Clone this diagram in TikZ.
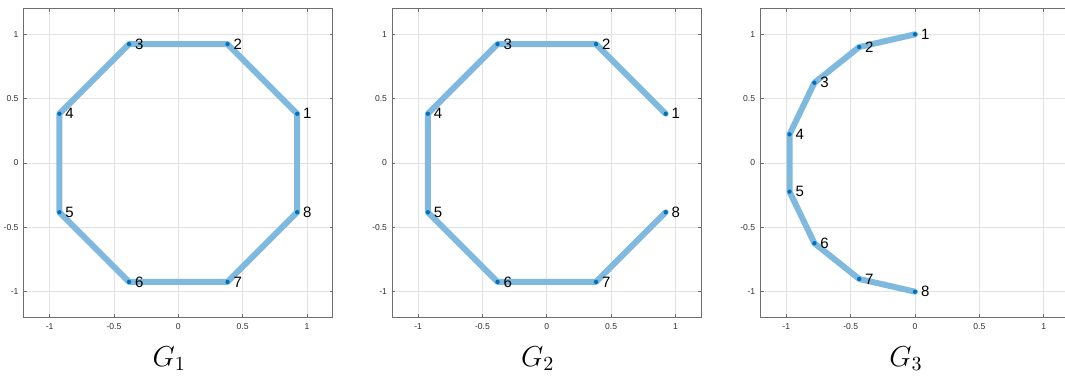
\documentclass[tikz,border=0pt]{standalone}
\usepackage{fontspec}
\usepackage{tikz}
\newfontfamily\plotfont{Liberation Sans}
\definecolor{edgeblue}{RGB}{128,185,222}
\definecolor{dotblue}{RGB}{0,114,189}
\definecolor{gridgray}{RGB}{226,226,226}
\definecolor{boxgray}{RGB}{110,110,110}
\definecolor{ticktext}{RGB}{50,50,50}

% box, grid, ticks and tick labels of one panel
\newcommand{\panelaxes}[1]{%
    \foreach \t in {-1,-0.5,0,0.5,1} {
        \draw[gridline] (\t,-1.2) -- (\t,1.2);
        \draw[gridline] (-1.2,\t) -- (1.2,\t);
    }
    \draw[axisbox] (-1.2,-1.2) rectangle (1.2,1.2);
    \foreach \t/\i in {-1/1,-0.5/2,0/3,0.5/4,1/5} {
        \draw[axisbox] (\t,-1.2) -- ++(0,1.5pt);
        \draw[axisbox] (\t,1.2) -- ++(0,-1.5pt);
        \draw[axisbox] (-1.2,\t) -- ++(1.5pt,0);
        \draw[axisbox] (1.2,\t) -- ++(-1.5pt,0);
        \node[ticklabel, anchor=north] (#1xt\i) at ([yshift=-2.8pt]\t,-1.2) {\t};
        \node[ticklabel, anchor=east] (#1yt\i) at ([xshift=-2.5pt]-1.2,\t) {\t};
    }
}

\begin{document}
\begin{tikzpicture}[
        gridline/.style={gridgray, line width=0.35pt},
        axisbox/.style={boxgray, line width=0.45pt},
        ticklabel/.style={inner sep=0pt, text=ticktext,
                          font=\plotfont\fontsize{4.3}{5}\selectfont},
        edge/.style={edgeblue, line width=3pt, line cap=round, line join=round},
        vdot/.style={circle, fill=dotblue, inner sep=0pt, minimum size=2.2pt},
        vlabel/.style={anchor=west, inner sep=0pt, xshift=2.8pt,
                       font=\plotfont\fontsize{7.5}{8}\selectfont},
        title/.style={anchor=base, font=\Large}
    ]
    \useasboundingbox (0,0) rectangle (532.5pt,188pt);

    % G_1
    \begin{scope}[shift={(89.15pt,106.5pt)}, x=64.35pt, y=64.35pt]
        \panelaxes{a}
        \foreach \k in {1,...,8}
            \coordinate (a\k) at ({22.5+45*(\k-1)}:1);
        \draw[edge] (a1) \foreach \k in {2,...,8} {-- (a\k)} -- cycle;
        \foreach \k in {1,...,8} {
            \node[vdot] (a\k d) at (a\k) {};
            \node[vlabel] (a\k l) at (a\k) {\k};
        }
        \node[title] (ga) at (-0.07,-1.58) {$G_1$};
    \end{scope}

    % G_2
    \begin{scope}[shift={(273.4pt,106.5pt)}, x=64.35pt, y=64.35pt]
        \panelaxes{b}
        \foreach \k in {1,...,8}
            \coordinate (b\k) at ({22.5+45*(\k-1)}:1);
        \draw[edge] (b1) \foreach \k in {2,...,8} {-- (b\k)};
        \foreach \k in {1,...,8} {
            \node[vdot] (b\k d) at (b\k) {};
            \node[vlabel] (b\k l) at (b\k) {\k};
        }
        \node[title] (gb) at (-0.07,-1.58) {$G_2$};
    \end{scope}

    % G_3
    \begin{scope}[shift={(457.5pt,106.5pt)}, x=64.35pt, y=64.35pt]
        \panelaxes{c}
        \foreach \k in {1,...,8}
            \coordinate (c\k) at ({90+180/7*(\k-1)}:1);
        \draw[edge] (c1) \foreach \k in {2,...,8} {-- (c\k)};
        \foreach \k in {1,...,8} {
            \node[vdot] (c\k d) at (c\k) {};
            \node[vlabel] (c\k l) at (c\k) {\k};
        }
        \node[title] (gc) at (-0.07,-1.58) {$G_3$};
    \end{scope}
\end{tikzpicture}
\end{document}
